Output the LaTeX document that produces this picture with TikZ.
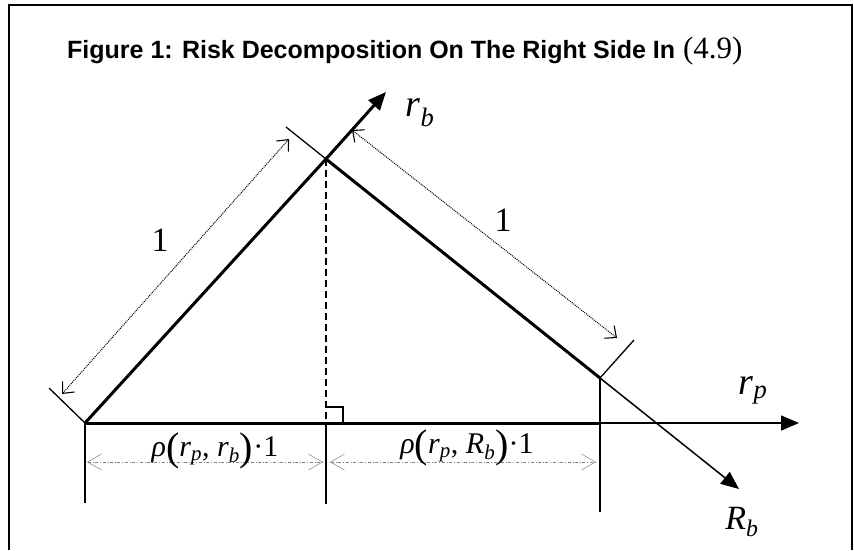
\documentclass[tikz,border=0pt]{standalone}
\usepackage{fontspec}
\setmainfont{Liberation Serif}
\newfontfamily\titlefont{Liberation Sans}
\usetikzlibrary{arrows.meta}
\newcommand{\vsub}[2]{\textit{#1}\textsubscript{\textit{#2}}}
\newcommand{\bigpar}[1]{\raisebox{-4pt}{\fontsize{40}{40}\selectfont #1}}

\begin{document}
\begin{tikzpicture}[x=1pt, y=-1pt,
    side/.style={line width=3pt},
    thinline/.style={line width=1.3pt},
    axisarr/.style={-{Triangle[length=18pt, width=15pt]}, line width=#1},
    axisarr/.default=1.5pt,
    dimarr/.style={{Straight Barb[length=9pt, width=16pt, line width=1.1pt]}-{Straight Barb[length=9pt, width=16pt, line width=1.1pt]}, densely dotted, line width=1pt},
    basearr/.style={{Straight Barb[length=14pt, width=16pt, line width=0.5pt]}-{Straight Barb[length=14pt, width=16pt, line width=0.5pt]}, gray, dash dot, line width=0.5pt},
    lbl/.style={font=\fontsize{34}{34}\selectfont, inner sep=0pt},
    rholbl/.style={font=\fontsize{30}{30}\selectfont, inner sep=0pt},
]
\useasboundingbox (0,0) rectangle (854,550);

% Frame
\draw[line width=2pt] (9,550) -- (9,5) -- (852,5) -- (852,550);

% Title
\node[anchor=base west, inner sep=0pt] (title) at (67,58)
    {\titlefont\bfseries\fontsize{25}{26}\selectfont Figure 1: Risk Decomposition On The Right Side In\hspace{8pt}{\rmfamily\mdseries\fontsize{31}{31}\selectfont(4.9)}};

% Vertices
\coordinate (O) at (85,423);
\coordinate (T) at (326,159);
\coordinate (R) at (600,378);
\coordinate (F) at (326,423);
\coordinate (Rfoot) at (600,423);

% Axis tips
\coordinate (rbtip) at (386,92);
\coordinate (Rbtip) at (739,489);
\coordinate (rptip) at (799,423);

% Axes
\draw[axisarr] (Rfoot) -- (rptip);
\draw[axisarr] (R) -- (Rbtip);
\draw[axisarr=3pt] (T) -- (rbtip);

% Triangle
\draw[side] (O) -- (T) -- (R);
\draw[side] (O) -- (Rfoot);
\draw[thinline, dash pattern=on 7pt off 4pt] (T) -- (F);
\draw[thinline] (F) ++(0,-16) -- ++(17,0) -- ++(0,16);

% Ticks
\coordinate (Otick) at (49,388);
\coordinate (Ttick) at (286,127);
\coordinate (Rtick) at (634,340);
\draw[thinline] (O) -- (Otick);
\draw[thinline] (T) -- (Ttick);
\draw[thinline] (R) -- (Rtick);
\draw[thinline] (O) -- ++(0,80);
\draw[thinline] (F) -- ++(0,81);
\draw[thinline] (R) -- (600,512);

% Slanted dimensions
\coordinate (dimLa) at (62,394);
\coordinate (dimLb) at (289,139);
\coordinate (dimRa) at (352,130);
\coordinate (dimRb) at (617,338);
\draw[dimarr] (dimLa) -- (dimLb);
\draw[dimarr] (dimRa) -- (dimRb);
\node[lbl] (oneL) at (160,240) {1};
\node[lbl] (oneR) at (503,220) {1};

% Base dimensions
\coordinate (baseLa) at (87,462);
\coordinate (baseLb) at (323,462);
\coordinate (baseRa) at (330,462);
\coordinate (baseRb) at (596,462);
\draw[basearr] (baseLa) -- (baseLb);
\draw[basearr] (baseRa) -- (baseRb);
\node[rholbl] (rhoL) at (215,451) {\textit{ρ}\bigpar{(}\vsub{r}{p}, \vsub{r}{b}\bigpar{)}·1};
\node[rholbl] (rhoR) at (467,448) {\textit{ρ}\bigpar{(}\vsub{r}{p}, \vsub{R}{b}\bigpar{)}·1};

% Axis labels
\node[lbl, font=\fontsize{38}{38}\selectfont] (rblbl) at (420,113) {\vsub{r}{b}};
\node[lbl, font=\fontsize{38}{38}\selectfont] (rplbl) at (753,390) {\vsub{r}{p}};
\node[lbl] (Rblbl) at (742,522) {\vsub{R}{b}};

\end{tikzpicture}
\end{document}
